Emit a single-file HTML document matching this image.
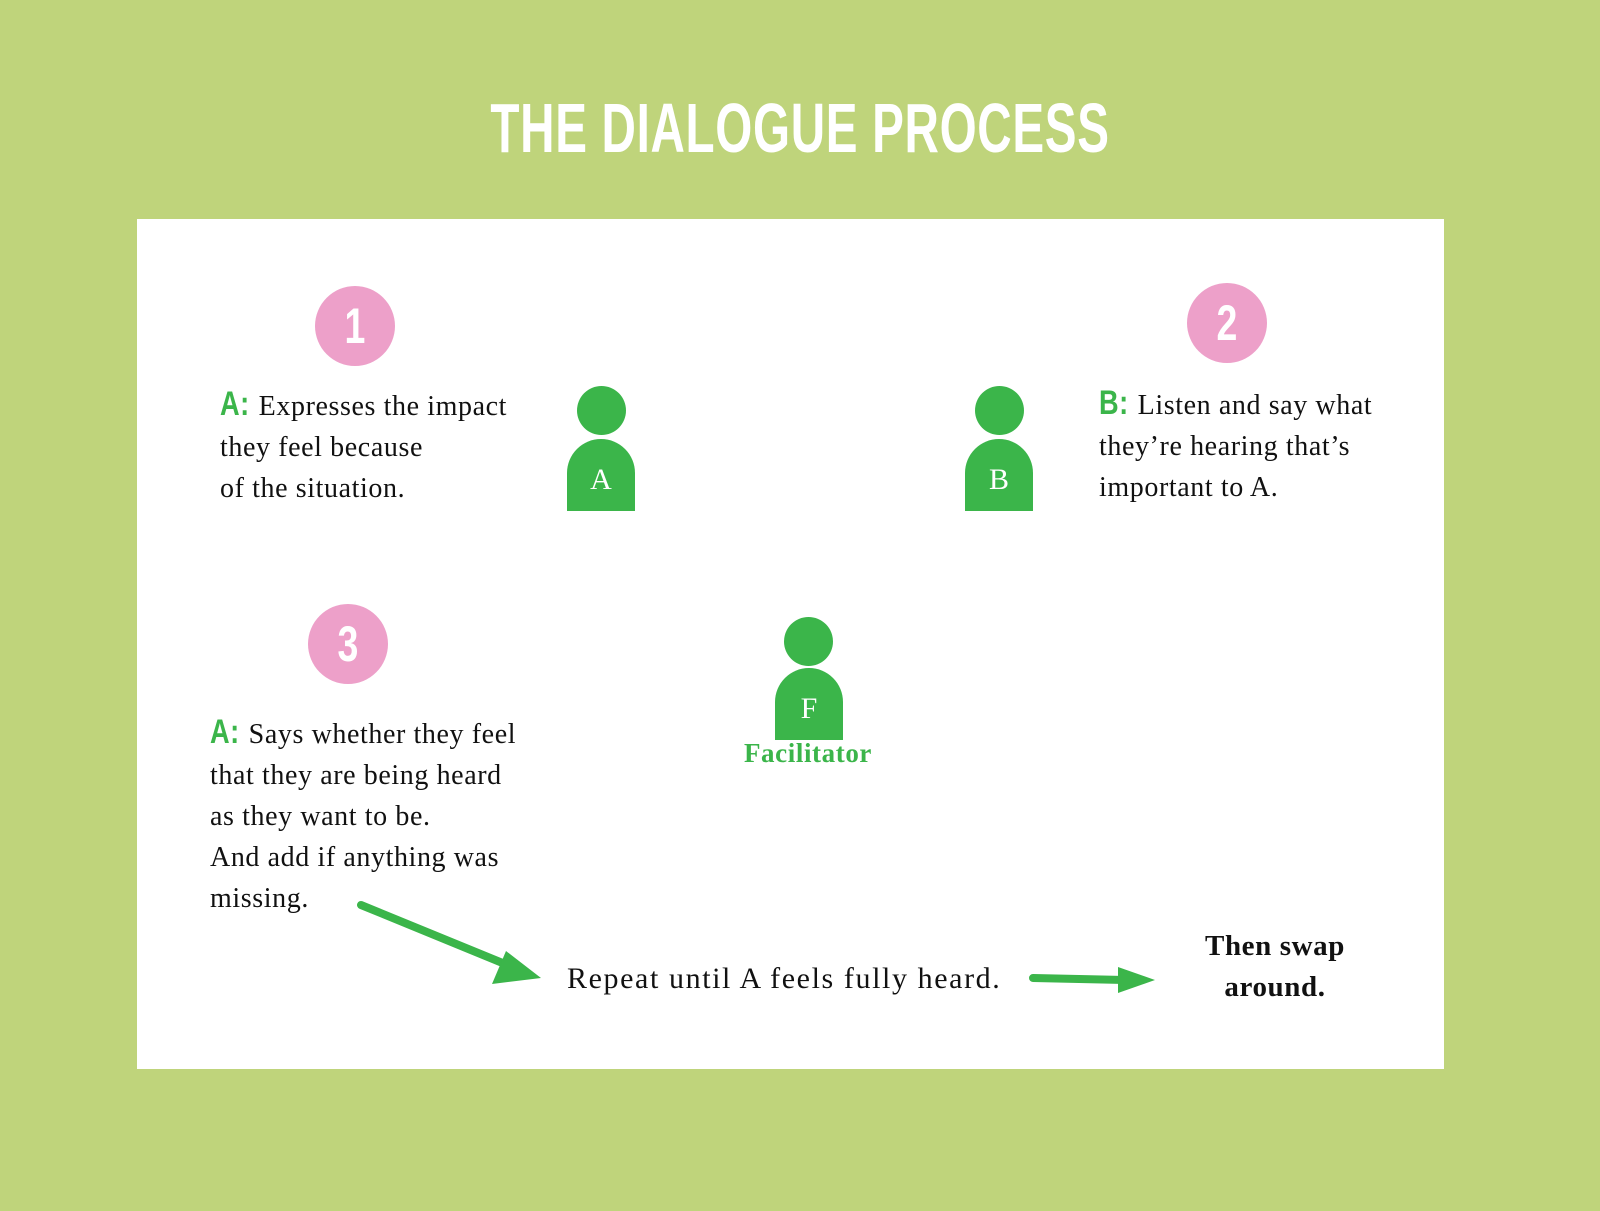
<!DOCTYPE html>
<html><head><meta charset="utf-8"><style>
body{margin:0;width:1600px;height:1211px;background:#bfd47b;position:relative;overflow:hidden;font-family:"Liberation Serif",serif;}
.abs{position:absolute;}
#title{left:0;width:1600px;top:88px;text-align:center;color:#fff;font-family:"Liberation Sans",sans-serif;font-weight:bold;font-size:70px;letter-spacing:1px;transform:scaleX(0.68);}
#panel{left:137px;top:219px;width:1307px;height:850px;background:#fff;}
.num{width:80px;height:80px;border-radius:50%;background:#eda0c9;color:#fff;font-family:"Liberation Sans",sans-serif;font-weight:bold;font-size:50px;line-height:80px;text-align:center;}
.num span{display:inline-block;transform:scaleX(0.75);}
.head{width:49px;height:49px;border-radius:50%;background:#3bb54a;}
.body{width:68px;height:72px;border-radius:34px 34px 0 0;background:#3bb54a;color:#fff;font-size:30px;text-align:center;line-height:82px;}
.txt{font-size:28px;line-height:41px;color:#111;letter-spacing:0.6px;}
.lab{display:inline-block;color:#3bb54a;font-family:"Liberation Sans",sans-serif;font-weight:bold;font-size:34px;transform:scaleX(0.8);transform-origin:left;margin-right:-6px;}
</style></head><body>
<div id="title" class="abs">THE DIALOGUE PROCESS</div>
<div id="panel" class="abs"></div>

<div class="abs num" style="left:315px;top:286px"><span>1</span></div>
<div class="abs num" style="left:1187px;top:283px"><span>2</span></div>
<div class="abs num" style="left:308px;top:604px"><span>3</span></div>

<div class="abs txt" style="left:220px;top:384px"><span class="lab">A:</span> Expresses the impact<br>they feel because<br>of the situation.</div>
<div class="abs txt" style="left:1099px;top:383px"><span class="lab">B:</span> Listen and say what<br>they’re hearing that’s<br>important to A.</div>
<div class="abs txt" style="left:210px;top:712px"><span class="lab">A:</span> Says whether they feel<br>that they are being heard<br>as they want to be.<br>And add if anything was<br>missing.</div>

<div class="abs head" style="left:577px;top:386px"></div>
<div class="abs body" style="left:567px;top:439px">A</div>
<div class="abs head" style="left:975px;top:386px"></div>
<div class="abs body" style="left:965px;top:439px">B</div>
<div class="abs head" style="left:784px;top:617px"></div>
<div class="abs body" style="left:775px;top:668px">F</div>
<div class="abs" style="left:708px;top:738px;width:200px;text-align:center;color:#3bb54a;font-weight:bold;font-size:27px;letter-spacing:0.6px">Facilitator</div>

<div class="abs txt" style="left:567px;top:958px;font-size:30px;letter-spacing:1.6px">Repeat until A feels fully heard.</div>
<div class="abs txt" style="left:1175px;top:926px;width:200px;text-align:center;font-size:29px;font-weight:bold">Then swap<br>around.</div>

<svg class="abs" style="left:0;top:0" width="1600" height="1211">
<line x1="361" y1="905" x2="505" y2="964" stroke="#3bb54a" stroke-width="8" stroke-linecap="round"/>
<polygon points="541,978 492,984 506,951" fill="#3bb54a"/>
<line x1="1033" y1="978" x2="1125" y2="980" stroke="#3bb54a" stroke-width="8" stroke-linecap="round"/>
<polygon points="1155,980 1118,967 1118,993" fill="#3bb54a"/>
</svg>
</body></html>
